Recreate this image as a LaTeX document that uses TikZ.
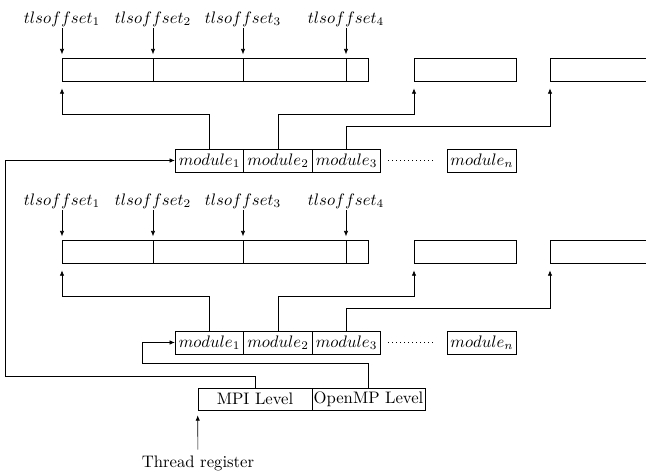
\documentclass[tikz,border=0pt]{standalone}
\usetikzlibrary{arrows.meta}
\begin{document}
\begin{tikzpicture}[x=0.6pt,y=-0.6pt,
  cell/.style={draw,inner sep=0pt,minimum height=13.8pt,anchor=north west},
  mod/.style={draw,inner sep=0pt,minimum height=13.8pt,minimum width=41.1pt},
  lvl/.style={draw,inner sep=0pt,minimum height=13.2pt},
  lbl/.style={inner sep=1pt},
  arr/.style={-{Latex[length=3.2pt,width=2.6pt]}}]
\useasboundingbox (0,0) rectangle (646,473);
\clip (0,0) rectangle (646,473);

\foreach \r/\dy in {1/0,2/182}{
  % memory blocks
  \node[cell,minimum width=54.6pt] (a\r) at (62,{58+\dy}) {};
  \node[cell,minimum width=54pt]   (b\r) at (153,{58+\dy}) {};
  \node[cell,minimum width=61.8pt] (c\r) at (243,{58+\dy}) {};
  \node[cell,minimum width=13.2pt] (d\r) at (346,{58+\dy}) {};
  \node[cell,minimum width=61.2pt] (e\r) at (414,{58+\dy}) {};
  \node[cell,minimum width=66pt]   (f\r) at (550,{58+\dy}) {};
  % offset labels
  \node[lbl] (t\r1) at (62,{19+\dy})  {$tlsoffset_1$};
  \node[lbl] (t\r2) at (153,{19+\dy}) {$tlsoffset_2$};
  \node[lbl] (t\r3) at (243,{19+\dy}) {$tlsoffset_3$};
  \node[lbl] (t\r4) at (346,{19+\dy}) {$tlsoffset_4$};
  \draw[arr,shorten >=2.2pt] (t\r1) -- (a\r.north west);
  \draw[arr,shorten >=2.2pt] (t\r2) -- (b\r.north west);
  \draw[arr,shorten >=2.2pt] (t\r3) -- (c\r.north west);
  \draw[arr,shorten >=2.2pt] (t\r4) -- (d\r.north west);
  % modules
  \node[mod] (m\r1) at (209.5,{160.5+\dy}) {$module_1$};
  \node[mod] (m\r2) at (278,{160.5+\dy})   {$module_2$};
  \node[mod] (m\r3) at (346.5,{160.5+\dy}) {$module_3$};
  \node[mod] (mn\r) at (482,{160.5+\dy})   {$module_n$};
  \draw[dotted,shorten <=4.2pt,shorten >=7.8pt] (m\r3.east) -- (mn\r.west);
  % module -> block connectors
  \draw[arr,shorten >=4pt] (m\r1.north) -- ++(0,-34) -| (a\r.south west);
  \draw[arr,shorten >=4pt] (m\r2.north) -- ++(0,-34) -| (e\r.south west);
  \draw[arr,shorten >=4pt] (m\r3.north) -- ++(0,-22) -| (f\r.south west);
}

% thread register levels
\node[lvl,minimum width=68.4pt] (mpi) at (255,399) {MPI Level};
\node[lvl,minimum width=67.8pt] (omp) at (368.5,399) {OpenMP Level};
\node (tr) at (198,463) {Thread register};
\draw[arr,shorten >=3pt] (tr) -- (mpi.south west);

\draw[arr] (mpi.north) -- ++(0,-11) -- ++(-250,0) |- (m11.west);
\draw[arr] (omp.north) -- ++(0,-24) -- ++(-226,0) |- (m21.west);
\end{tikzpicture}
\end{document}
